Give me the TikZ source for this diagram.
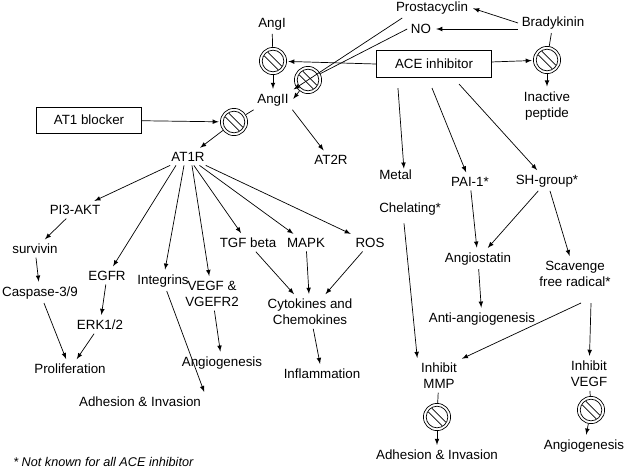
\documentclass[tikz,border=0pt]{standalone}
\usepackage{fontspec}
\setmainfont{Liberation Sans}
\begin{document}
\begin{tikzpicture}[x=0.025cm,y=-0.025cm,
  t/.style={inner sep=2.5pt,font=\fontsize{9.5}{11.5}\selectfont,align=center},
  a/.style={-latex,line width=0.5pt,shorten >=1pt},
  l/.style={line width=0.5pt},
  blk/.style={circle,inner sep=0pt,minimum size=0.68cm},
  bx/.style={draw,line width=0.6pt,inner sep=0pt,font=\fontsize{9.5}{11.5}\selectfont}]
\useasboundingbox (0,0) rectangle (628,469);
\newcommand{\nosign}[2]{%
  \node[blk] (#1) at (#2) {};
  \begin{scope}[shift={(#2)}]
   \draw[line width=0.5pt] (0,0) circle [radius=0.34cm] (0,0) circle [radius=0.27cm];
   \draw[line width=0.5pt] (-8.8,-5.2) -- (5.2,8.8) (-5.2,-8.8) -- (8.8,5.2);
  \end{scope}}
% nodes
\node[t] (pro) at (432,8) {Prostacyclin};
\node[t] (bra) at (553,23) {Bradykinin};
\node[t] (no) at (421,29) {NO};
\node[t] (angi) at (272,24) {AngI};
\node[bx,minimum width=2.88cm,minimum height=0.68cm] (ace) at (434,64) {ACE inhibitor};
\node[t] (angii) at (273,100) {AngII};
\node[bx,minimum width=2.63cm,minimum height=0.65cm] (at1b) at (89,120) {AT1 blocker};
\node[t] (inact) at (547,106) {Inactive\\peptide};
\node[t] (at1r) at (188,157) {AT1R};
\node[t] (at2r) at (331,160) {AT2R};
\node[t] (pi3) at (75,210) {PI3-AKT};
\node[t] (surv) at (35,249) {survivin};
\node[t] (casp) at (40,293) {Caspase-3/9};
\node[t] (egfr) at (107,276) {EGFR};
\node[t] (erk) at (100,325) {ERK1/2};
\node[t] (prol) at (70,369) {Proliferation};
\node[t] (integ) at (163,281) {Integrins};
\node[t] (adh1) at (140,402) {Adhesion \& Invasion};
\node[t] (vegf) at (212,294) {VEGF \&\\VGEFR2};
\node[t] (ang1) at (222,363) {Angiogenesis};
\node[t] (tgf) at (248,243) {TGF beta};
\node[t] (mapk) at (306,243) {MAPK};
\node[t] (ros) at (370,243) {ROS};
\node[t] (cyto) at (310,312) {Cytokines and\\Chemokines};
\node[t] (infl) at (322,374) {Inflammation};
\node[t,align=left,anchor=north west,inner sep=0pt,font=\fontsize{9.5}{23}\selectfont] (metal) at (379,170) {Metal\\Chelating*};
\node[t] (pai) at (470,182) {PAI-1*};
\node[t] (sh) at (547,181) {SH-group*};
\node[t] (angst) at (478,259) {Angiostatin};
\node[t] (scav) at (575,274) {Scavenge\\free radical*};
\node[t] (anti) at (482,319) {Anti-angiogenesis};
\node[t] (immp) at (439,376) {Inhibit\\MMP};
\node[t] (ivegf) at (589,374) {Inhibit\\VEGF};
\node[t] (adh2) at (437,455) {Adhesion \& Invasion};
\node[t] (ang2) at (584,446) {Angiogenesis};
\node[t,anchor=west,inner sep=0pt,font=\fontsize{9}{11}\selectfont\itshape] (foot) at (13,462) {* Not known for all ACE inhibitor};
% blockers
\nosign{b1}{273,61}
\nosign{b2}{308,80}
\nosign{b3}{547,60}
\nosign{b4}{234,122}
\nosign{b5}{437,417}
\nosign{b6}{591,410}
% connectors
\draw[a] (bra.west) ++(0,0) -- (pro.east);
\draw[a] (bra.west) ++(0,6) coordinate (bw) -- (no.east |- bw);
\draw[l] (bra) -- (b3);
\draw[a] (b3) -- (inact);
\draw[a] (ace) -- (b3);
\draw[a] (ace.west) -- (b1);
\draw[l] (angi) -- (b1);
\draw[a] (b1) -- (angii);
\draw[a] (pro.south west) ++(10,0) -- (angii.north east);
\draw[l] (no.west) -- (b2);
\draw[a] (b2) -- (angii.east);
\draw[a] (at1b) -- (b4);
\draw[l] (angii.south west) -- (b4);
\draw[a] (b4) -- (at1r);
\draw[a] (angii.south east) -- (at2r);
\draw[a] (at1r) -- (pi3);
\draw[a] (at1r.south) ++(-12,0) -- (egfr);
\draw[a] (at1r.south) ++(-4,0) -- (integ);
\draw[a] (at1r.south) ++(4,0) -- (vegf);
\draw[a] (at1r) -- (tgf);
\draw[a] (at1r) -- (mapk);
\draw[a] (at1r) -- (ros);
\draw[a] (pi3) -- (surv);
\draw[a] (surv) -- (casp);
\draw[a] (casp) -- (prol);
\draw[a] (egfr) -- (erk);
\draw[a] (erk) -- (prol);
\draw[a] (integ) -- (adh1.north east);
\draw[a] (vegf) -- (ang1);
\draw[a] (tgf) -- (cyto);
\draw[a] (mapk) -- (cyto);
\draw[a] (ros) -- (cyto);
\draw[a] (cyto) -- (infl);
\draw[a] (ace.south west) ++(22,10) -- (metal.north west -| 404,0);
\draw[a] (ace.south) ++(-2,10) -- (pai);
\draw[a] (ace.south) ++(25,6) -- (sh);
\draw[a] (pai) -- (angst);
\draw[a] (sh) -- (angst);
\draw[a] (sh) -- (scav);
\draw[a] (angst) -- (anti);
\coordinate (sc) at (591,303);
\draw[a] (sc) -- (ivegf);
\draw[a] (581,303) -- (immp.north east);
\draw[a] (metal.south west) ++(25,8) -- (immp.north west);
\draw[l] (immp) -- (b5);
\draw[a] (b5) -- (adh2);
\draw[l] (ivegf) -- (b6);
\draw[a] (b6) -- (ang2);
\end{tikzpicture}
\end{document}
